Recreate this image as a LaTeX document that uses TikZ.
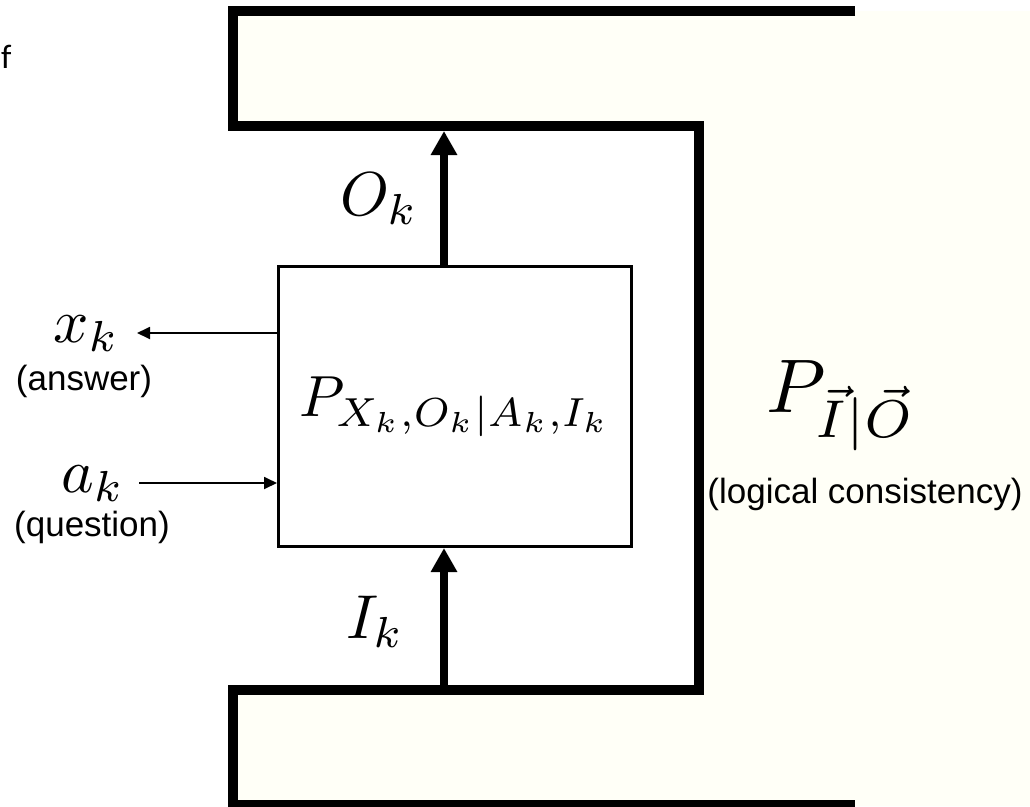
\documentclass[tikz,border=0pt]{standalone}
\usepackage{graphicx}
\usepackage{fontspec}
\setmainfont{Liberation Sans}
\newfontfamily\ffont{Carlito}
\usetikzlibrary{arrows.meta}
\definecolor{cream}{RGB}{255,255,247}
\newcommand{\mathsized}[2]{\scalebox{#1}{$#2$}}
\tikzset{
  bar/.style={line width=10pt, line join=miter},
  bigarrow/.style={line width=8pt, -{Triangle[length=24pt,width=25pt]}},
  smallarrow/.style={line width=1.8pt, -{Triangle[length=13pt,width=12pt]}},
  blockbox/.style={draw, line width=3pt, minimum width=353pt, minimum height=280pt, inner sep=0pt},
  mathlbl/.style={inner sep=0pt},
  txtlbl/.style={inner sep=0pt, font=\fontsize{35}{39}\selectfont}
}
\begin{document}
\begin{tikzpicture}[x=1pt,y=-1pt]
\useasboundingbox (0,0) rectangle (1030,806);
\fill[white] (0,0) rectangle (1030,806);
\fill[cream] (233,11) -- (1030,11) -- (1030,806) -- (233,806) -- (233,690) -- (699,690) -- (699,126) -- (233,126) -- cycle;
\draw[bar] (855,11) -- (233,11) -- (233,126) -- (699,126) -- (699,690) -- (233,690) -- (233,805) -- (855,805);

\node[blockbox] (box) at (455,406.5) {\mathsized{5.8}{P_{X_k,O_k|A_k,I_k}}};

\coordinate (ot) at (444,131);
\coordinate (ib) at (444,686);
\draw[bigarrow] (ot |- box.north) -- (ot);
\draw[bigarrow] (ib) -- (ib |- box.south);

\coordinate (xe) at (137,333);
\coordinate (as) at (139,483);
\draw[smallarrow] (box.west |- xe) -- (xe);
\draw[smallarrow] (as) -- (box.west |- as);

\node[mathlbl, anchor=base west] (ok) at (340,215) {\mathsized{6.2}{O_k}};
\node[mathlbl, anchor=base west] (ik) at (346,638) {\mathsized{6.2}{I_k}};
\node[mathlbl, anchor=base west] (xk) at (53,342) {\mathsized{6.2}{x_k}};
\node[mathlbl, anchor=base west] (ak) at (61,492) {\mathsized{6.2}{a_k}};
\node[txtlbl] (ans) at (84,381) {(answer)};
\node[txtlbl] (que) at (92,527) {(question)};
\node[mathlbl, anchor=base west] (pio) at (766,412) {\mathsized{7.6}{P_{\vec{I}|\vec{O}}}};
\node[txtlbl] (lc) at (865,494) {(logical consistency)};
\node[inner sep=0pt, anchor=base west, font=\ffont\fontsize{34}{36}\selectfont] (f) at (1,68) {f};
\end{tikzpicture}
\end{document}
